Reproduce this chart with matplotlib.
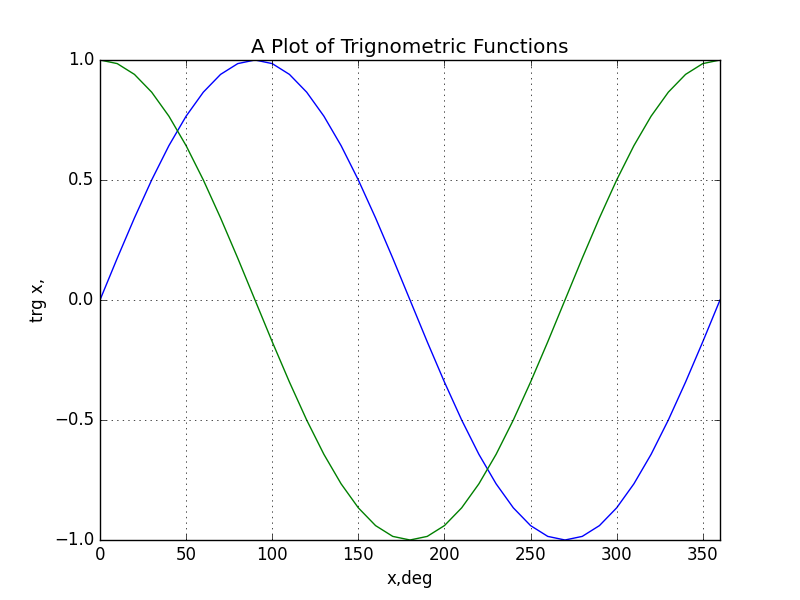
import matplotlib
matplotlib.use("Agg")
import matplotlib.pyplot as plt

plt.style.use("classic")

# angles in degrees, sampled every 10 degrees
x_deg = [0, 10, 20, 30, 40, 50, 60, 70, 80, 90,
         100, 110, 120, 130, 140, 150, 160, 170, 180,
         190, 200, 210, 220, 230, 240, 250, 260, 270,
         280, 290, 300, 310, 320, 330, 340, 350, 360]

sin_vals = [0.0, 0.174, 0.342, 0.5, 0.643, 0.766, 0.866, 0.940, 0.985, 1.0,
            0.985, 0.940, 0.866, 0.766, 0.643, 0.5, 0.342, 0.174, 0.0,
            -0.174, -0.342, -0.5, -0.643, -0.766, -0.866, -0.940, -0.985, -1.0,
            -0.985, -0.940, -0.866, -0.766, -0.643, -0.5, -0.342, -0.174, 0.0]

cos_vals = [1.0, 0.985, 0.940, 0.866, 0.766, 0.643, 0.5, 0.342, 0.174, 0.0,
            -0.174, -0.342, -0.5, -0.643, -0.766, -0.866, -0.940, -0.985, -1.0,
            -0.985, -0.940, -0.866, -0.766, -0.643, -0.5, -0.342, -0.174, 0.0,
            0.174, 0.342, 0.5, 0.643, 0.766, 0.866, 0.940, 0.985, 1.0]

fig = plt.figure(figsize=(8, 6), dpi=100, facecolor="white")
ax = fig.add_subplot(111)

ax.plot(x_deg, sin_vals, color="b")
ax.plot(x_deg, cos_vals, color="g")

ax.set_xlim(0, 360)
ax.set_ylim(-1.0, 1.0)
ax.set_yticks([-1.0, -0.5, 0.0, 0.5, 1.0])
ax.set_xlabel("x,deg")
ax.set_ylabel("trg x,")
ax.set_title("A Plot of Trignometric Functions")
ax.grid(True)

fig.savefig("out.png", dpi=100, facecolor="white")
